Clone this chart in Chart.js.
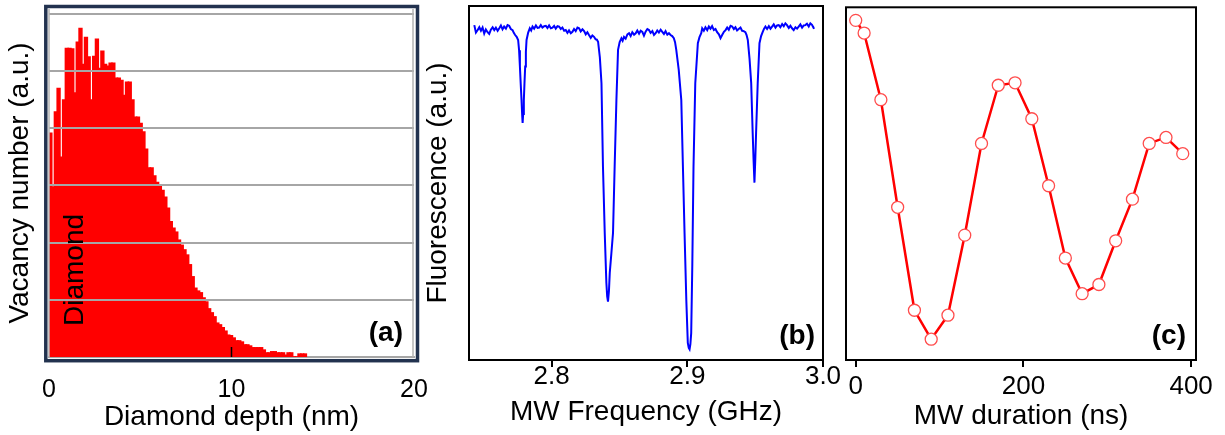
<!DOCTYPE html>
<html>
<head>
<meta charset="utf-8">
<title>Vacancy depth, ODMR spectrum and Rabi oscillation</title>
<script src="https://cdn.jsdelivr.net/npm/chart.js@4.4.0/dist/chart.umd.min.js"></script>
<style>
  html, body { margin: 0; padding: 0; background: #fff; }
  #wrap { position: relative; width: 1225px; height: 435px; }
  #wrap canvas { position: absolute; left: 0; top: 0; }
</style>
</head>
<body>
<div id="wrap">
  <canvas id="chartA" width="1225" height="435"></canvas>
  <canvas id="chartB" width="1225" height="435"></canvas>
  <canvas id="chartC" width="1225" height="435"></canvas>
</div>
<script>
// (a) vacancy depth histogram, 0.15 nm bins starting at the surface
const binWidthNm = 0.15;
const vacancyCounts = [
  3.91, 2.97, 4.28, 4.69, 3.49, 4.49, 5.39, 5.39, 5.38, 4.61,
  5.50, 5.74, 5.11, 5.58, 5.24, 4.49, 5.25, 5.55, 5.04, 5.34,
  5.11, 5.08, 5.13, 5.13, 4.87, 4.87, 4.83, 4.57, 4.80, 4.80,
  4.49, 4.19, 4.19, 4.08, 3.93, 3.63, 3.30, 3.30, 3.16, 3.05,
  2.98, 2.91, 2.79, 2.60, 2.36, 2.25, 2.18, 2.04, 1.95, 1.87,
  1.78, 1.61, 1.40, 1.20, 1.15, 1.12, 1.03, 0.96, 0.84, 0.77,
  0.70, 0.59, 0.56, 0.51, 0.45, 0.38, 0.37, 0.33, 0.28, 0.28,
  0.26, 0.21, 0.21, 0.19, 0.16, 0.16, 0.16, 0.16, 0.12, 0.07,
  0.07, 0.09, 0.09, 0.07, 0.07, 0.07, 0.03, 0.07, 0.07, 0,
  0, 0.05, 0.05, 0.05
];
const depthTicks = [0, 10, 20];
const vacancyGrid = [1, 2, 3, 4, 5, 6];

// (b) ODMR spectrum
const mwFreqGHz = [
  2.7431, 2.7443, 2.7456, 2.7468, 2.7480, 2.7492, 2.7504, 2.7516, 2.7529, 2.7541,
  2.7553, 2.7566, 2.7578, 2.7590, 2.7603, 2.7615, 2.7627, 2.7639, 2.7651, 2.7664,
  2.7676, 2.7688, 2.7700, 2.7713, 2.7722, 2.7732, 2.7743,
  2.7754, 2.7761, 2.7767, 2.7773, 2.7779, 2.7784, 2.7787, 2.7791, 2.7796, 2.7801,
  2.7806, 2.7811, 2.7816,
  2.7828, 2.7840, 2.7850, 2.7860, 2.7872, 2.7885, 2.7897, 2.7909, 2.7921, 2.7933,
  2.7946, 2.7958, 2.7970, 2.7982, 2.7995, 2.8007, 2.8019, 2.8031, 2.8044, 2.8056,
  2.8068, 2.8080, 2.8093, 2.8105, 2.8117, 2.8129, 2.8142, 2.8154, 2.8166, 2.8178,
  2.8191, 2.8203, 2.8215, 2.8228, 2.8240, 2.8252, 2.8264, 2.8276, 2.8289, 2.8301,
  2.8313, 2.8325, 2.8334, 2.8343, 2.8356,
  2.8368, 2.8379, 2.8392, 2.8404, 2.8410, 2.8416, 2.8423, 2.8429, 2.8441, 2.8453,
  2.8465, 2.8478, 2.8490,
  2.8502, 2.8515, 2.8524, 2.8534, 2.8546, 2.8559, 2.8571, 2.8583, 2.8595, 2.8608,
  2.8620, 2.8632, 2.8645, 2.8657, 2.8669, 2.8681, 2.8694, 2.8706, 2.8718, 2.8730,
  2.8743, 2.8755, 2.8767, 2.8779, 2.8791, 2.8804, 2.8816, 2.8828, 2.8840, 2.8853,
  2.8865, 2.8877, 2.8889, 2.8901, 2.8910,
  2.8919, 2.8937, 2.8956, 2.8968, 2.8980, 2.8993, 2.9004, 2.9011, 2.9017, 2.9023,
  2.9029, 2.9037, 2.9046, 2.9059, 2.9078,
  2.9090, 2.9103, 2.9110, 2.9122, 2.9134, 2.9147, 2.9159, 2.9171, 2.9183, 2.9196,
  2.9208, 2.9220, 2.9233, 2.9245, 2.9257, 2.9270, 2.9282, 2.9294, 2.9306, 2.9319,
  2.9331, 2.9343, 2.9355, 2.9367, 2.9379, 2.9392, 2.9404, 2.9416, 2.9428, 2.9437,
  2.9446, 2.9459, 2.9471, 2.9482, 2.9489, 2.9495, 2.9501, 2.9507, 2.9519, 2.9532,
  2.9544, 2.9556, 2.9566, 2.9576, 2.9588, 2.9601, 2.9613, 2.9625, 2.9637, 2.9650,
  2.9662, 2.9674, 2.9686, 2.9699, 2.9711, 2.9723, 2.9735, 2.9748, 2.9760, 2.9772,
  2.9784, 2.9797, 2.9809, 2.9821, 2.9833, 2.9846, 2.9858, 2.9870, 2.9882, 2.9895,
  2.9907, 2.9919, 2.9931, 2.9938
];
const fluorescence = [
  94.6, 92.5, 93.2, 94.0, 93.0, 93.9, 92.2, 93.4, 92.6, 92.1,
  93.3, 94.0, 93.2, 93.9, 93.0, 93.7, 94.5, 93.4, 94.2, 93.6,
  94.6, 94.4, 93.5, 93.2, 92.4, 91.8, 91.3,
  90.4, 87.5, 82.9, 78.0, 73.4, 69.0, 67.0, 69.5, 73.4, 78.5,
  82.9, 87.0, 90.4,
  92.5, 93.7, 93.1, 94.2, 93.6, 94.5, 93.8, 93.9, 94.6, 93.9,
  94.3, 94.4, 93.8, 94.5, 93.7, 93.9, 94.4, 93.6, 94.3, 94.2,
  93.5, 93.9, 93.0, 93.2, 92.4, 93.1, 92.3, 92.7, 93.5, 92.9,
  93.9, 93.7, 92.8, 93.4, 92.9, 92.0, 92.6, 91.8, 91.0, 91.7,
  91.3, 90.6, 90.5, 89.9, 85.5,
  78.2, 54.6, 35.9, 21.8, 18.0, 16.5, 19.5, 24.6, 30.2, 35.9,
  54.6, 73.4, 87.6,
  89.8, 90.9, 90.2, 91.3, 90.8, 92.0, 92.3, 91.5, 92.6, 91.9,
  92.3, 93.1, 92.2, 93.0, 92.7, 91.6, 92.8, 93.5, 93.2, 92.4,
  92.9, 91.8, 92.3, 93.1, 92.5, 93.3, 92.7, 92.1, 92.9, 91.9,
  92.3, 91.8, 91.5, 90.9, 89.8,
  87.6, 82.0, 73.4, 54.6, 35.9, 16.9, 4.8, 3.4, 3.0, 4.5,
  7.6, 26.4, 54.6, 78.2, 89.5,
  91.2, 92.3, 93.7, 93.0, 94.0, 93.2, 94.2, 93.6, 94.3, 93.2,
  93.5, 92.6, 92.0, 90.9, 91.8, 92.7, 93.2, 93.9, 93.3, 94.4,
  94.2, 93.5, 94.0, 93.1, 93.5, 93.9, 93.0, 92.9, 92.6, 91.8,
  90.4, 85.0, 78.2, 64.1, 56.0, 50.1, 56.5, 64.1, 78.2, 89.5,
  91.5, 92.7, 93.6, 94.2, 93.5, 94.3, 93.6, 94.2, 94.8, 93.9,
  94.5, 94.6, 94.0, 94.9, 94.3, 95.1, 94.6, 93.8, 94.4, 93.7,
  93.2, 94.0, 93.6, 94.2, 94.8, 93.9, 94.5, 94.6, 95.0, 94.2,
  95.1, 94.7, 93.8, 93.9
];
const freqTicks = [2.8, 2.9, 3.0];

// (c) Rabi oscillation
const mwDurationNs = [0, 10, 30, 50, 70, 90, 110, 130, 150, 170, 190, 210, 230, 250, 270, 290, 310, 330, 350, 370, 390];
const rabiSignal = [96.3, 92.7, 73.8, 43.3, 14.1, 5.9, 12.7, 35.4, 61.4, 77.9, 78.6, 68.4, 49.4, 28.9, 18.8, 21.4, 33.8, 45.6, 61.4, 63.1, 58.5];
const durationTicks = [0, 200, 400];

Chart.defaults.font.family = 'Arial, "Liberation Sans", sans-serif';
Chart.defaults.color = '#000';
Chart.defaults.animation = false;
Chart.defaults.responsive = false;
Chart.defaults.plugins.legend.display = false;
Chart.defaults.plugins.tooltip.enabled = false;

const setTicks = values => scale => { scale.ticks = values.map(v => ({ value: v })); };

function drawLetter(ctx, area, letter, dx) {
  ctx.save();
  ctx.font = 'bold 28px Arial, "Liberation Sans", sans-serif';
  ctx.fillStyle = '#000';
  ctx.textAlign = 'right';
  ctx.textBaseline = 'middle';
  ctx.fillText(letter, area.right - dx, area.bottom - 24);
  ctx.restore();
}

const decorA = {
  id: 'decorA',
  afterDraw(chart) {
    const { ctx, chartArea: a, scales } = chart;
    ctx.save();
    ctx.strokeStyle = '#b4b4b4';
    ctx.lineWidth = 1.5;
    ctx.beginPath();
    ctx.moveTo(a.left, a.top); ctx.lineTo(a.left, a.bottom);
    ctx.moveTo(a.right - 1, a.top); ctx.lineTo(a.right - 1, a.bottom);
    ctx.stroke();
    // inner tick at 10 nm
    const x10 = scales.x.getPixelForValue(10);
    ctx.strokeStyle = '#000';
    ctx.beginPath();
    ctx.moveTo(x10, a.bottom); ctx.lineTo(x10, a.bottom - 10);
    ctx.stroke();
    ctx.strokeStyle = '#22324f';
    ctx.lineWidth = 3.5;
    ctx.strokeRect(a.left - 3.2, a.top - 2.5, a.right - a.left + 6.7, a.bottom - a.top + 6.2);
    // rotated "Diamond" label
    ctx.translate(a.left + 26, a.bottom - 87);
    ctx.rotate(-Math.PI / 2);
    ctx.font = '28px Arial, "Liberation Sans", sans-serif';
    ctx.fillStyle = '#000';
    ctx.textAlign = 'center';
    ctx.textBaseline = 'middle';
    ctx.fillText('Diamond', 0, 0);
    ctx.restore();
    drawLetter(ctx, a, '(a)', 11);
  }
};

const boxFrame = (letter, dx) => ({
  id: 'boxFrame',
  afterDraw(chart) {
    const { ctx, chartArea: a } = chart;
    ctx.save();
    ctx.strokeStyle = '#000';
    ctx.lineWidth = 2;
    ctx.strokeRect(a.left, a.top, a.right - a.left, a.bottom - a.top);
    ctx.restore();
    drawLetter(ctx, a, letter, dx);
  }
});

// (a)
new Chart(document.getElementById('chartA'), {
  type: 'bar',
  data: {
    datasets: [{
      data: vacancyCounts.map((v, i) => ({ x: (i + 0.5) * binWidthNm, y: v })),
      backgroundColor: '#ff0000',
      borderWidth: 0,
      barPercentage: 1,
      categoryPercentage: 1,
      inflateAmount: 0.8
    }]
  },
  options: {
    layout: { padding: { left: 0, right: 1225 - 414, top: 9, bottom: 0 } },
    scales: {
      x: {
        type: 'linear', min: 0, max: 20, offset: false,
        afterBuildTicks: setTicks(depthTicks),
        afterFit: s => { s.height = 78; },
        grid: { display: false },
        border: { display: true, color: '#a6a6a6', width: 2 },
        ticks: { font: { size: 25 }, padding: 10, maxRotation: 0, autoSkip: false },
        title: { display: true, text: 'Diamond depth (nm)', font: { size: 28 }, padding: { top: 0, bottom: 1 } }
      },
      y: {
        min: 0, max: 6.08,
        afterBuildTicks: setTicks(vacancyGrid),
        afterFit: s => { s.width = 49; },
        grid: { color: '#a6a6a6', lineWidth: 2, drawTicks: false, z: 1 },
        border: { display: false },
        ticks: { display: false },
        title: { display: true, text: 'Vacancy number (a.u.)', font: { size: 28 }, padding: { top: 3, bottom: 0 } }
      }
    }
  },
  plugins: [decorA]
});

// (b)
new Chart(document.getElementById('chartB'), {
  type: 'line',
  data: {
    datasets: [{
      data: mwFreqGHz.map((f, i) => ({ x: f, y: fluorescence[i] })),
      borderColor: '#0000ff',
      borderWidth: 2,
      pointRadius: 0,
      tension: 0
    }]
  },
  options: {
    layout: { padding: { left: 420, right: 1225 - 823, top: 6, bottom: 0 } },
    scales: {
      x: {
        type: 'linear', min: 2.7392, max: 3.0,
        afterBuildTicks: setTicks(freqTicks),
        afterFit: s => { s.height = 75; },
        grid: { drawOnChartArea: false, drawTicks: true, tickLength: 7, color: '#000', lineWidth: 2 },
        border: { display: false },
        ticks: { font: { size: 26 }, padding: -6, maxRotation: 0, autoSkip: false, callback: v => v.toFixed(1) },
        title: { display: true, text: 'MW Frequency (GHz)', font: { size: 28 }, padding: { top: 0, bottom: 6 } }
      },
      y: {
        min: 0, max: 100,
        afterFit: s => { s.width = 49; },
        grid: { display: false },
        border: { display: false },
        ticks: { display: false },
        title: { display: true, text: 'Fluorescence (a.u.)', font: { size: 28 }, padding: { top: 1, bottom: 0 } }
      }
    }
  },
  plugins: [boxFrame('(b)', 8)]
});

// (c)
new Chart(document.getElementById('chartC'), {
  type: 'line',
  data: {
    datasets: [{
      data: mwDurationNs.map((t, i) => ({ x: t, y: rabiSignal[i] })),
      borderColor: '#ff0000',
      borderWidth: 2.5,
      pointRadius: 6,
      pointBackgroundColor: '#ffffff',
      pointBorderColor: '#ff4d4d',
      pointBorderWidth: 1.3,
      tension: 0
    }]
  },
  options: {
    layout: { padding: { left: 846, right: 1225 - 1196, top: 6, bottom: 0 } },
    scales: {
      x: {
        type: 'linear', min: -11.6, max: 405.8,
        afterBuildTicks: setTicks(durationTicks),
        afterFit: s => { s.height = 75; },
        grid: { drawOnChartArea: false, drawTicks: true, tickLength: 7, color: '#000', lineWidth: 2 },
        border: { display: false },
        ticks: { font: { size: 26 }, padding: 4, maxRotation: 0, autoSkip: false },
        title: { display: true, text: 'MW duration (ns)', font: { size: 28 }, padding: { top: 0, bottom: 2 } }
      },
      y: { display: false, min: 0, max: 100 }
    }
  },
  plugins: [boxFrame('(c)', 10)]
});
</script>
</body>
</html>
